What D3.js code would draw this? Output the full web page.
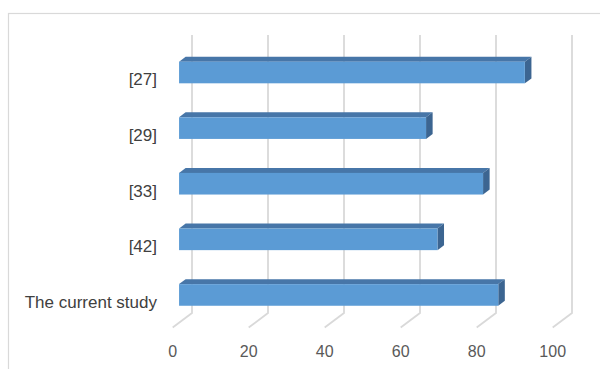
<!DOCTYPE html>
<html>
<head>
<meta charset="utf-8">
<script src="https://cdn.jsdelivr.net/npm/d3@7"></script>
<style>
    body { margin: 0; background: #fff; }
    svg { display: block; font-family: "Liberation Sans", Arial, sans-serif; }
</style>
</head>
<body>
<div id="chart"></div>
<script>
// Chart data
const categories = ["[27]", "[29]", "[33]", "[42]", "The current study"];
const values = [91, 65, 80, 68, 84];
const tickValues = [0, 20, 40, 60, 80, 100];

const width = 600;
const height = 369;

// 3D depth of the floor (back wall -> front edge)
const depthX = -19.3;
const depthY = 14.5;
// bar sits between these depth fractions
const barBack = 0.33;
const barFront = 0.67;

const svg = d3.select("#chart")
    .append("svg")
    .attr("width", width)
    .attr("height", height);

// Chart area border
svg.append("rect")
    .attr("x", 8.5)
    .attr("y", 13.5)
    .attr("width", width + 10)
    .attr("height", height + 10)
    .attr("fill", "#fff")
    .attr("stroke", "#d9d9d9")
    .attr("stroke-width", 1.2);

// Scales on the back wall
const x = d3.scaleLinear()
    .domain([0, 100])
    .range([192, 572]);

const y = d3.scaleBand()
    .domain(categories)
    .range([35, 313])
    .paddingInner(0.611)
    .paddingOuter(0.305);

// Gridlines: back wall vertical line plus floor diagonal
const grid = svg.append("g");
tickValues.forEach(function (t) {
    grid.append("path")
        .attr("d", `M${x(t)},35 L${x(t)},313 L${x(t) + depthX},${313 + depthY}`)
        .attr("fill", "none")
        .attr("stroke", "#d9d9d9")
        .attr("stroke-width", 1.8);
});

// Value axis labels at the front edge of the floor
svg.selectAll("text.tick")
    .data(tickValues)
    .enter().append("text")
    .attr("class", "tick")
    .attr("x", d => x(d) + depthX)
    .attr("y", 357)
    .attr("text-anchor", "middle")
    .style("font-size", "16px")
    .style("fill", "#595959")
    .text(d => d);

// Category labels
svg.selectAll("text.cat")
    .data(categories)
    .enter().append("text")
    .attr("class", "cat")
    .attr("x", 157)
    .attr("y", d => y(d) + y.bandwidth() / 2 + depthY + 8)
    .attr("text-anchor", "end")
    .style("font-size", "17px")
    .style("fill", "#404040")
    .text(d => d);

// Draw the 3D bars
const fdx = depthX * barFront, fdy = depthY * barFront;
const bdx = depthX * barBack, bdy = depthY * barBack;
const ox = bdx - fdx, oy = bdy - fdy;

const bars = svg.selectAll("g.bar")
    .data(categories.map((c, i) => ({ cat: c, value: values[i] })))
    .enter().append("g")
    .attr("class", "bar");

bars.each(function (d) {
    const g = d3.select(this);
    const x0 = x(0) + fdx;
    const x1 = x(d.value) + fdx;
    const y0 = y(d.cat) + fdy;
    const h = y.bandwidth();

    // top face
    g.append("path")
        .attr("d", `M${x0},${y0} L${x0 + ox},${y0 + oy} L${x1 + ox},${y0 + oy} L${x1},${y0} Z`)
        .attr("fill", "#4776a8");
    // right side face
    g.append("path")
        .attr("d", `M${x1},${y0} L${x1 + ox},${y0 + oy} L${x1 + ox},${y0 + h + oy} L${x1},${y0 + h} Z`)
        .attr("fill", "#3c6591");
    // front face
    g.append("rect")
        .attr("x", x0)
        .attr("y", y0)
        .attr("width", x1 - x0)
        .attr("height", h)
        .attr("fill", "#5b9bd5");
});
</script>
</body>
</html>
